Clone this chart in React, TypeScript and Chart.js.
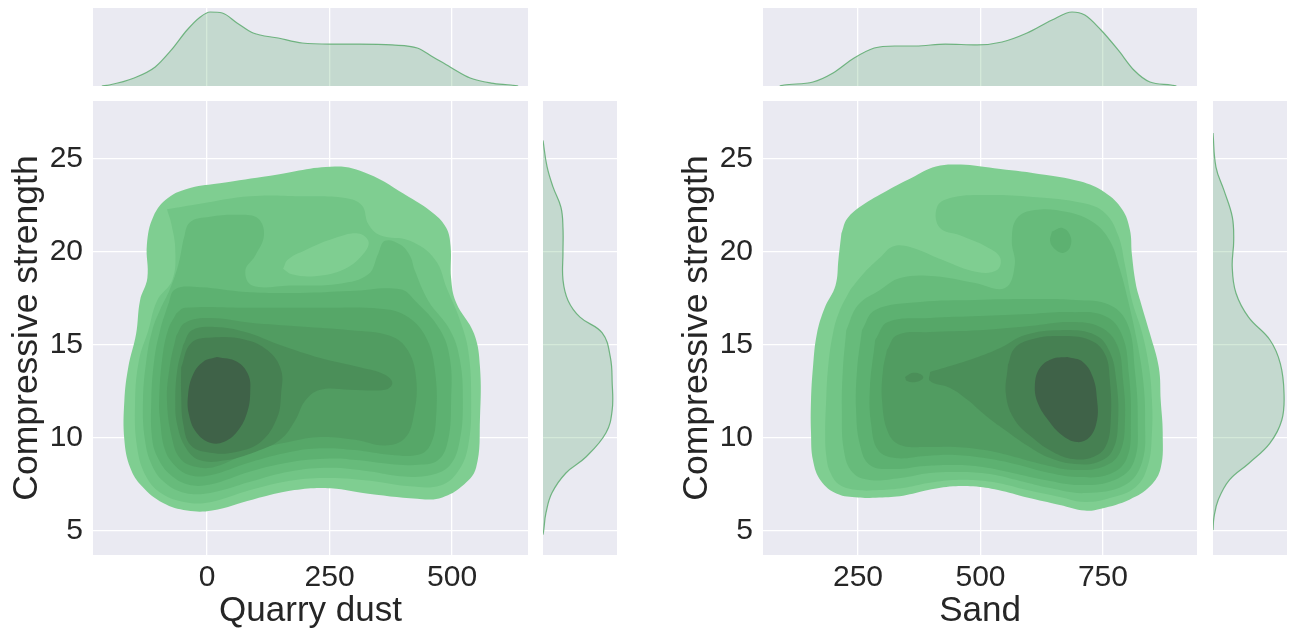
import React, { useEffect, useRef } from "react";
import { Chart, registerables } from "chart.js";

Chart.register(...registerables);

type Pt = [number, number];

// ---------------- axes / ticks ----------------
const strengthTicks = [5, 10, 15, 20, 25];
const quarryTicks = [0, 250, 500];
const sandTicks = [250, 500, 750];
const strengthRange: Pt = [3.71, 28.12];
const quarryRange: Pt = [-233, 655];
const sandRange: Pt = [56, 942];

// contour level colours (outer -> inner)
const levelColors = [
  "#7fce91",
  "#72c586",
  "#67bb7b",
  "#5db171",
  "#56a768",
  "#519c61",
  "#4b8f59",
  "#468052",
  "#3f6248",
];

// ---------------- Quarry dust vs strength: contour levels [quarry dust, strength] ----------------
const quarryLevel0: Pt[] = [
  [26, 23.7], [129, 24.1], [261, 24.6], [329, 24.2], [412, 22.96], [461, 22.1], [488, 21.3], [497, 20.3],
  [498, 18.6], [508, 17.3], [545, 15.6], [557, 13.8], [557, 11.1], [549, 8.4], [520, 7.4], [480, 6.8],
  [445, 6.7], [329, 7.0], [253, 7.3], [178, 7.2], [94, 6.7], [10, 6.1], [-41, 6.1], [-90, 6.5],
  [-133, 7.4], [-157, 8.4], [-169, 9.9], [-169, 12.0], [-161, 13.8], [-145, 15.6], [-137, 17.4],
  [-122, 18.6], [-123, 20.4], [-110, 21.9], [-80, 22.9], [-33, 23.45],
];
const quarryLevel1: Pt[] = [
  [-82, 22.3], [-14, 22.6], [88, 23.0], [190, 23.0], [282, 22.9], [316, 22.5], [329, 21.5], [353, 20.9],
  [414, 20.6], [465, 19.6], [490, 18.0], [516, 16.35], [533, 14.7], [539, 12.0], [533, 9.6], [512, 8.2],
  [476, 7.45], [414, 7.4], [333, 7.7], [251, 7.85], [169, 7.7], [88, 7.2], [6, 6.55], [-45, 6.55],
  [-92, 7.0], [-124, 7.9], [-143, 9.5], [-147, 12.0], [-139, 14.2], [-120, 15.8], [-102, 17.4],
  [-71, 18.5], [-65, 20.1], [-73, 21.5],
];
const quarryIsland0: Pt[] = [
  [155, 19.1], [173, 18.8], [220, 18.7], [282, 19.1], [322, 20.0], [329, 20.6], [308, 21.0],
  [261, 20.75], [200, 20.1], [165, 19.6],
];
const quarryLevel2: Pt[] = [
  [-49, 20.6], [-35, 21.6], [6, 21.9], [67, 22.0], [104, 21.8], [116, 20.9], [98, 19.8], [78, 19.0],
  [92, 18.2], [169, 18.2], [271, 18.3], [329, 18.8], [349, 19.9], [363, 20.6], [394, 20.4], [414, 19.8],
  [424, 19.0], [451, 17.4], [496, 15.8], [516, 14.2], [522, 12.0], [516, 9.9], [496, 8.55], [455, 8.0],
  [394, 7.95], [333, 8.2], [251, 8.4], [169, 8.2], [88, 7.65], [6, 7.05], [-45, 7.05], [-86, 7.6],
  [-112, 8.5], [-127, 9.9], [-131, 12.0], [-124, 14.2], [-112, 15.8], [-96, 16.9], [-76, 18.0], [-59, 19.3],
];
const quarryLevel3: Pt[] = [
  [-80, 17.15], [-65, 18.0], [-14, 18.1], [78, 17.85], [190, 17.8], [292, 17.9], [394, 18.0], [424, 17.4],
  [476, 15.8], [496, 14.2], [498, 12.0], [492, 9.9], [471, 8.8], [424, 8.55], [373, 8.6], [312, 8.8],
  [251, 8.9], [169, 8.7], [88, 8.2], [6, 7.5], [-39, 7.5], [-76, 8.05], [-100, 8.9], [-112, 9.9],
  [-114, 12.0], [-108, 14.2], [-96, 15.8],
];
const quarryLevel4: Pt[] = [
  [-63, 16.7], [-45, 17.0], [88, 17.0], [231, 17.0], [353, 16.95], [404, 16.6], [445, 15.5], [465, 13.65],
  [467, 10.95], [455, 9.6], [431, 9.1], [373, 9.1], [302, 9.35], [231, 9.45], [169, 9.25], [88, 8.7],
  [6, 8.0], [-35, 8.0], [-65, 8.5], [-86, 9.35], [-96, 10.95], [-98, 12.0], [-92, 14.2], [-80, 15.8],
];
const quarryLevel5: Pt[] = [
  [-63, 15.5], [-45, 16.2], [6, 16.45], [88, 16.2], [190, 16.0], [292, 15.8], [373, 15.5], [410, 14.7],
  [427, 13.1], [422, 11.25], [404, 10.0], [363, 9.6], [302, 9.9], [231, 10.05], [169, 9.8], [98, 9.35],
  [16, 8.45], [-24, 8.45], [-55, 8.9], [-71, 9.9], [-82, 12.0], [-76, 13.9],
];
const quarryLevel6: Pt[] = [
  [-49, 15.0], [-31, 15.8], [16, 15.97], [78, 15.7], [149, 15.0], [231, 14.3], [312, 13.8], [363, 13.4],
  [378, 12.95], [363, 12.6], [292, 12.6], [231, 12.6], [200, 12.0], [180, 10.95], [149, 9.9], [98, 9.25],
  [37, 8.8], [-14, 8.8], [-43, 9.45], [-61, 10.7], [-65, 12.0], [-61, 13.65],
];
const quarryLevel7: Pt[] = [
  [-53, 13.8], [-33, 15.1], [10, 15.4], [76, 15.3], [124, 14.7], [151, 13.65], [151, 12.4], [143, 11.1],
  [110, 9.8], [59, 9.25], [10, 9.2], [-33, 9.6], [-49, 10.8], [-53, 12.4],
];
const quarryLevel8: Pt[] = [
  [20, 14.35], [61, 14.1], [84, 13.4], [88, 12.5], [82, 11.4], [63, 10.4], [35, 9.8], [6, 9.75],
  [-22, 10.3], [-37, 11.25], [-39, 12.3], [-29, 13.4], [-8, 14.1],
];

// ---------------- Sand vs strength: contour levels [sand, strength] ----------------
const sandLevel0: Pt[] = [
  [216, 21.0], [228, 21.8], [258, 22.5], [309, 23.3], [360, 24.0], [409, 24.6], [460, 24.7], [528, 24.5],
  [619, 24.2], [703, 23.8], [754, 23.2], [789, 22.3], [805, 21.2], [809, 19.9], [817, 18.3], [826, 17.4],
  [846, 15.6], [864, 13.8], [868, 12.0], [872, 10.3], [868, 8.4], [846, 7.4], [805, 6.7], [746, 6.2],
  [713, 6.1], [662, 6.4], [595, 6.8], [536, 7.2], [485, 7.4], [444, 7.4], [393, 7.2], [342, 6.9],
  [293, 6.8], [250, 6.8], [207, 7.0], [174, 7.7], [158, 8.8], [154, 10.3], [154, 12.0], [158, 13.8],
  [166, 15.6], [182, 17.0], [204, 18.2], [210, 19.6],
];
const sandLevel1: Pt[] = [
  [234, 17.96], [264, 18.92], [295, 19.7], [321, 20.3], [356, 20.27], [423, 19.57], [493, 18.92],
  [534, 19.03], [540, 19.7], [513, 20.27], [458, 20.9], [417, 21.3], [411, 22.4], [438, 22.9], [505, 23.06],
  [607, 22.96], [709, 22.63], [754, 22.1], [781, 20.9], [795, 19.3], [809, 17.42], [830, 15.65],
  [844, 13.82], [850, 12.04], [850, 10.27], [842, 8.55], [817, 7.37], [764, 6.77], [713, 6.56],
  [662, 6.83], [595, 7.2], [536, 7.58], [485, 7.74], [444, 7.74], [393, 7.58], [342, 7.31], [293, 7.2],
  [250, 7.2], [213, 7.47], [193, 8.17], [185, 9.09], [183, 10.27], [185, 12.04], [189, 13.82],
  [199, 15.65], [213, 16.88],
];
const sandLevel2: Pt[] = [
  [226, 15.8], [250, 17.15], [295, 17.96], [336, 18.6], [407, 18.7], [489, 18.33], [550, 18.06],
  [570, 19.3], [564, 20.6], [574, 21.8], [611, 22.26], [677, 22.15], [730, 21.6], [764, 20.6],
  [785, 19.03], [801, 17.42], [819, 15.27], [832, 13.12], [836, 10.97], [830, 8.71], [795, 7.47],
  [713, 7.04], [642, 7.31], [581, 7.69], [519, 8.06], [458, 8.17], [397, 8.12], [336, 7.85], [274, 7.74],
  [238, 8.17], [221, 9.35], [217, 11.5], [219, 13.66],
];
const sandIsland3: Pt[] = [
  [646, 21.1], [666, 21.3], [683, 20.9], [683, 20.27], [668, 19.95], [650, 20.2], [642, 20.6],
];
const sandLevel3: Pt[] = [
  [258, 15.8], [285, 16.88], [377, 17.31], [489, 17.42], [601, 17.47], [693, 17.42], [764, 17.15],
  [801, 16.07], [815, 13.66], [821, 10.97], [813, 8.71], [774, 7.74], [703, 7.47], [632, 7.74],
  [566, 8.12], [505, 8.44], [448, 8.55], [387, 8.5], [321, 8.33], [274, 8.55], [254, 9.62], [246, 11.5],
  [248, 13.66],
];
const sandLevel4: Pt[] = [
  [285, 15.27], [311, 16.24], [397, 16.45], [499, 16.56], [601, 16.67], [683, 16.77], [754, 16.56],
  [789, 15.54], [803, 13.39], [807, 10.97], [799, 8.92], [764, 8.06], [699, 7.9], [632, 8.17], [570, 8.6],
  [509, 8.92], [448, 9.09], [387, 9.03], [326, 8.92], [291, 9.35], [277, 10.7], [274, 12.58],
];
const sandLevel5: Pt[] = [
  [309, 14.73], [330, 15.54], [397, 15.7], [499, 15.8], [601, 16.02], [683, 16.24], [744, 15.97],
  [779, 15.0], [791, 13.12], [795, 10.97], [785, 9.25], [754, 8.5], [693, 8.28], [632, 8.55], [570, 8.98],
  [509, 9.35], [448, 9.52], [387, 9.52], [336, 9.62], [311, 10.32], [299, 12.04], [301, 13.66],
];
const sandIsland6: Pt[] = [
  [346, 13.28], [360, 13.5], [377, 13.44], [383, 13.23], [368, 13.01], [350, 13.06],
];
const sandLevel6: Pt[] = [
  [397, 13.55], [438, 13.87], [489, 14.3], [540, 14.84], [591, 15.54], [662, 15.8], [734, 15.54],
  [764, 14.62], [777, 13.12], [781, 10.97], [770, 9.35], [740, 8.71], [693, 8.6], [642, 8.92], [597, 9.57],
  [550, 10.43], [509, 11.24], [474, 12.04], [438, 12.69], [397, 13.06],
];
const sandLevel7: Pt[] = [
  [556, 13.92], [570, 14.84], [607, 15.32], [662, 15.48], [723, 15.27], [754, 14.52], [764, 13.12],
  [766, 10.97], [756, 9.57], [730, 8.98], [689, 8.87], [648, 9.25], [607, 10.0], [570, 10.97], [552, 12.31],
];
const sandLevel8: Pt[] = [
  [677, 14.35], [709, 14.09], [730, 13.23], [738, 12.04], [738, 10.97], [723, 10.05], [697, 9.78],
  [666, 10.16], [638, 10.97], [617, 11.88], [611, 12.85], [621, 13.76], [646, 14.25],
];

// ---------------- marginal densities ----------------
const quarryDensity: Pt[] = [
  [-215, 0], [-200, 0.013], [-149, 0.103], [-106, 0.244], [-73, 0.462], [-41, 0.718], [-14, 0.885],
  [6, 0.949], [31, 0.936], [61, 0.808], [94, 0.679], [145, 0.615], [194, 0.551], [253, 0.538],
  [312, 0.538], [378, 0.526], [429, 0.487], [461, 0.372], [496, 0.244], [537, 0.103], [580, 0.038],
  [620, 0.013], [635, 0],
];
const sandDensity: Pt[] = [
  [90, 0], [99, 0.013], [158, 0.051], [199, 0.167], [242, 0.359], [283, 0.487], [325, 0.513],
  [368, 0.513], [428, 0.538], [493, 0.526], [544, 0.564], [595, 0.679], [646, 0.846], [687, 0.949],
  [713, 0.91], [746, 0.718], [781, 0.462], [813, 0.205], [846, 0.051], [889, 0.013], [900, 0],
];
// [strength, density]
const strengthDensityQuarry: Pt[] = [
  [26.0, 0], [24.6, 0.054], [23.5, 0.135], [22.4, 0.243], [21.3, 0.27], [19.95, 0.27], [18.5, 0.27],
  [17.4, 0.338], [16.5, 0.5], [15.65, 0.8], [14.35, 0.91], [12.96, 0.935], [11.5, 0.935], [10.27, 0.85],
  [8.98, 0.58], [8.12, 0.31], [7.04, 0.12], [5.97, 0.04], [5.05, 0.01], [4.8, 0],
];
const strengthDensitySand: Pt[] = [
  [26.4, 0], [24.57, 0.04], [23.3, 0.15], [21.9, 0.26], [20.65, 0.28], [19.2, 0.26], [17.8, 0.31],
  [16.5, 0.48], [15.27, 0.77], [14.0, 0.91], [12.4, 0.96], [10.97, 0.93], [9.73, 0.77], [8.66, 0.49],
  [7.74, 0.22], [6.67, 0.07], [5.75, 0.014], [5.05, 0],
];

const quarryLayers = [
  { level: 0, points: quarryLevel0 },
  { level: 1, points: quarryLevel1 },
  { level: 0, points: quarryIsland0 },
  { level: 2, points: quarryLevel2 },
  { level: 3, points: quarryLevel3 },
  { level: 4, points: quarryLevel4 },
  { level: 5, points: quarryLevel5 },
  { level: 6, points: quarryLevel6 },
  { level: 7, points: quarryLevel7 },
  { level: 8, points: quarryLevel8 },
];
const sandLayers = [
  { level: 0, points: sandLevel0 },
  { level: 1, points: sandLevel1 },
  { level: 2, points: sandLevel2 },
  { level: 3, points: sandIsland3 },
  { level: 3, points: sandLevel3 },
  { level: 4, points: sandLevel4 },
  { level: 5, points: sandLevel5 },
  { level: 6, points: sandIsland6 },
  { level: 6, points: sandLevel6 },
  { level: 7, points: sandLevel7 },
  { level: 8, points: sandLevel8 },
];

// ---------------- styling ----------------
const FONT = "'Liberation Sans', Arial, Helvetica, sans-serif";
const TEXT = "#262626";
const PANEL_BG = "#eaeaf2";
const GRID = { color: "#ffffff", lineWidth: 1.3, drawTicks: false };
const MARG_FILL = "rgba(85,168,104,0.25)";
const MARG_LINE = "rgba(85,168,104,0.8)";

const bgPlugin = {
  id: "panelBg",
  beforeDraw(chart: any) {
    const { ctx, chartArea: a } = chart;
    ctx.save();
    ctx.fillStyle = PANEL_BG;
    ctx.fillRect(a.left, a.top, a.right - a.left, a.bottom - a.top);
    ctx.restore();
  },
};

const fixedTicks = (vals: number[]) => (s: any) => {
  s.ticks = vals.map((v) => ({ value: v }));
};
const fitHeight = (h: number) => (s: any) => {
  s.height = h;
  s.paddingLeft = 0;
  s.paddingRight = 0;
  s.paddingTop = 0;
  s.paddingBottom = 0;
};
const fitWidth = (w: number) => (s: any) => {
  s.width = w;
  s.paddingLeft = 0;
  s.paddingRight = 0;
  s.paddingTop = 0;
  s.paddingBottom = 0;
};

const baseOptions = {
  responsive: false,
  maintainAspectRatio: false,
  animation: false as const,
  events: [] as any[],
  layout: { padding: 0 },
  plugins: { legend: { display: false }, tooltip: { enabled: false } },
};

function contourDatasets(layers: { level: number; points: Pt[] }[]) {
  return layers.map((layer, i) => {
    const data = layer.points.map(([x, y]) => ({ x, y }));
    data.push({ ...data[0] });
    return {
      data,
      showLine: true,
      fill: "shape",
      backgroundColor: levelColors[layer.level],
      borderColor: "rgba(0,0,0,0)",
      borderWidth: 0,
      pointRadius: 0,
      pointHoverRadius: 0,
      pointHitRadius: 0,
      tension: 0.4,
      order: layers.length - i,
    };
  });
}

function mainConfig(xRange: Pt, xTicks: number[], xTitle: string, layers: { level: number; points: Pt[] }[]) {
  return {
    type: "scatter",
    data: { datasets: contourDatasets(layers) },
    options: {
      ...baseOptions,
      scales: {
        x: {
          type: "linear",
          min: xRange[0],
          max: xRange[1],
          afterBuildTicks: fixedTicks(xTicks),
          afterFit: fitHeight(74),
          grid: GRID,
          border: { display: false },
          ticks: { color: TEXT, font: { family: FONT, size: 30 }, padding: 5, maxRotation: 0, autoSkip: false },
          title: {
            display: true,
            text: xTitle,
            color: TEXT,
            font: { family: FONT, size: 35, lineHeight: 1 },
            padding: 0,
          },
        },
        y: {
          type: "linear",
          min: strengthRange[0],
          max: strengthRange[1],
          afterBuildTicks: fixedTicks(strengthTicks),
          afterFit: fitWidth(93),
          grid: GRID,
          border: { display: false },
          ticks: { color: TEXT, font: { family: FONT, size: 30 }, padding: 10, autoSkip: false },
          title: {
            display: true,
            text: "Compressive strength",
            color: TEXT,
            font: { family: FONT, size: 35.5, lineHeight: 1 },
            padding: { top: 9, bottom: 0 },
          },
        },
      },
    },
    plugins: [bgPlugin],
  };
}

function topMarginalConfig(xRange: Pt, xTicks: number[], curve: Pt[]) {
  return {
    type: "scatter",
    data: {
      datasets: [
        {
          data: curve.map(([x, d]) => ({ x, y: d })),
          showLine: true,
          fill: "origin",
          backgroundColor: MARG_FILL,
          borderColor: MARG_LINE,
          borderWidth: 1.2,
          pointRadius: 0,
          cubicInterpolationMode: "monotone",
        },
      ],
    },
    options: {
      ...baseOptions,
      scales: {
        x: {
          type: "linear",
          min: xRange[0],
          max: xRange[1],
          afterBuildTicks: fixedTicks(xTicks),
          afterFit: fitHeight(0),
          grid: GRID,
          border: { display: false },
          ticks: { display: false },
        },
        y: { type: "linear", display: false, min: 0, max: 1 },
      },
    },
    plugins: [bgPlugin],
  };
}

function rightMarginalConfig(curve: Pt[]) {
  return {
    type: "scatter",
    data: {
      datasets: [
        {
          data: curve.map(([s, d]) => ({ x: d, y: s })),
          showLine: true,
          fill: "shape",
          backgroundColor: MARG_FILL,
          borderColor: MARG_LINE,
          borderWidth: 1.2,
          pointRadius: 0,
          tension: 0.4,
        },
      ],
    },
    options: {
      ...baseOptions,
      scales: {
        x: { type: "linear", display: false, min: 0, max: 1 },
        y: {
          type: "linear",
          min: strengthRange[0],
          max: strengthRange[1],
          afterBuildTicks: fixedTicks(strengthTicks),
          afterFit: fitWidth(0),
          grid: GRID,
          border: { display: false },
          ticks: { display: false },
        },
      },
    },
    plugins: [bgPlugin],
  };
}

function ChartCanvas(props: { left: number; top: number; width: number; height: number; make: () => any }) {
  const ref = useRef<HTMLCanvasElement | null>(null);
  useEffect(() => {
    if (!ref.current) return;
    const chart = new Chart(ref.current, props.make());
    return () => chart.destroy();
  }, []);
  return (
    <canvas
      ref={ref}
      width={props.width}
      height={props.height}
      style={{ position: "absolute", left: props.left, top: props.top, width: props.width, height: props.height }}
    />
  );
}

export default function App() {
  return (
    <div style={{ position: "absolute", left: 0, top: 0, width: 1295, height: 629, background: "#ffffff", overflow: "hidden" }}>
      {/* Quarry dust joint plot */}
      <ChartCanvas left={93} top={8} width={435} height={78} make={() => topMarginalConfig(quarryRange, quarryTicks, quarryDensity)} />
      <ChartCanvas left={0} top={101} width={528} height={528} make={() => mainConfig(quarryRange, quarryTicks, "Quarry dust", quarryLayers)} />
      <ChartCanvas left={543} top={101} width={74} height={454} make={() => rightMarginalConfig(strengthDensityQuarry)} />
      {/* Sand joint plot */}
      <ChartCanvas left={763} top={8} width={434} height={78} make={() => topMarginalConfig(sandRange, sandTicks, sandDensity)} />
      <ChartCanvas left={670} top={101} width={527} height={528} make={() => mainConfig(sandRange, sandTicks, "Sand", sandLayers)} />
      <ChartCanvas left={1213} top={101} width={74} height={454} make={() => rightMarginalConfig(strengthDensitySand)} />
    </div>
  );
}
